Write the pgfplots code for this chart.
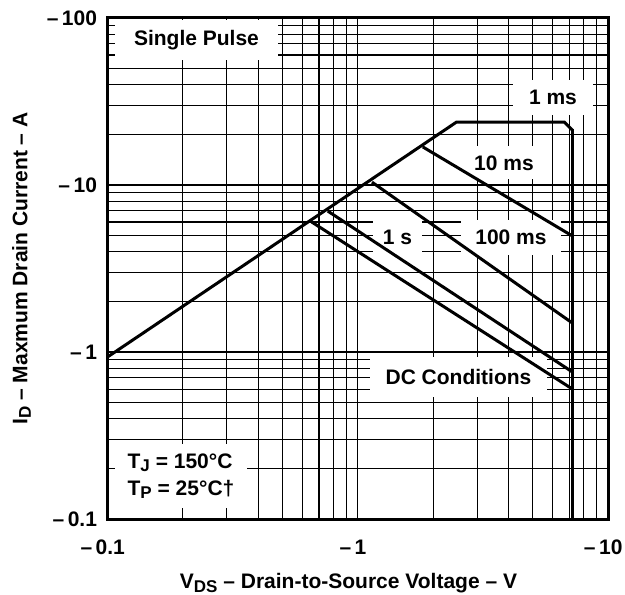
\documentclass[border=0pt]{standalone}
\usepackage{fontspec}
\setmainfont{Liberation Sans}
\usepackage{pgfplots}
\pgfplotsset{compat=1.18}
\newcommand{\sub}[1]{\raisebox{-1.7pt}{\fontsize{8.5}{9}\selectfont\bfseries #1}}
\newcommand{\lblfont}{\fontsize{10.5}{12.5}\selectfont\bfseries}
\begin{document}
\begin{tikzpicture}[font=\lblfont]
\begin{axis}[
  at={(0,0)}, anchor=south west,
  scale only axis, width=250.25pt, height=250.5pt,
  xmode=log, ymode=log,
  xmin=0.1, xmax=10, ymin=0.1, ymax=100,
  xtick={0.1,1,10},
  xticklabels={\textendash\,0.1, \textendash\,1, \textendash\,10},
  ytick={0.1,1,10,100},
  yticklabels={\textendash\,0.1, \textendash\,1, \textendash\,10, \textendash\,100},
  minor xtick={0.2,0.3,0.4,0.5,0.6,0.7,0.8,0.9,2,3,4,5,6,7,8,9},
  minor ytick={0.2,0.3,0.4,0.5,0.6,0.7,0.8,0.9,2,3,4,5,6,7,8,9,20,30,40,50,60,70,80,90},
  grid=both,
  major grid style={black, line width=0.55pt},
  minor grid style={black, line width=0.55pt},
  axis line style={line width=1.5pt},
  tick style={draw=none},
  major tick length=0pt, minor tick length=0pt,
  ticklabel style={font=\lblfont},
  xticklabel style={yshift=-6.8pt, xshift=-2.4pt},
  yticklabel style={xshift=-1.7pt},
  xlabel={V\sub{DS} \textendash\ Drain-to-Source Voltage \textendash\ V},
  ylabel={I\sub{D} \textendash\ Maxmum Drain Current \textendash\ A},
  xlabel style={at={(axis description cs:0.4815,-0.1397)}, anchor=base, font=\lblfont},
  ylabel style={at={(axis description cs:-0.16,0.5)}, anchor=base, font=\lblfont},
  clip=false,
]
% label boxes (drawn before curves so curves lie on top)
\node[fill=white, inner sep=0pt, minimum width=81.5pt, minimum height=20pt] at (axis description cs:0.1778,0.9561) {Single Pulse};
\node[fill=white, inner sep=0pt, minimum width=40pt, minimum height=17.5pt] at (axis description cs:0.8901,0.8413) {1 ms};
\node[fill=white, inner sep=0pt, minimum width=42pt, minimum height=16.5pt] at (axis description cs:0.7922,0.7106) {10 ms};
\node[fill=white, inner sep=0pt, minimum width=24.5pt, minimum height=17.5pt] at (axis description cs:0.5794,0.5619) {1 s};
\node[fill=white, inner sep=0pt, minimum width=50pt, minimum height=17.5pt] at (axis description cs:0.8062,0.5619) {100 ms};
\node[fill=white, inner sep=0pt, minimum width=88.5pt, minimum height=20pt] at (axis description cs:0.7013,0.2834) {DC Conditions};
\node[fill=white, inner sep=0pt, minimum width=66pt, minimum height=32pt, align=left, font=\fontsize{10.5}{13.5}\selectfont\bfseries] at (axis description cs:0.1469,0.0858) {T\sub{J} = 150\textdegree C\\T\sub{P} = 25\textdegree C\textdagger};

% 1 ms boundary (RDS(on) limit, current limit, voltage limit)
\addplot[black, line width=1.5pt, line join=miter] coordinates {(0.1,0.933) (2.48,23.8) (6.70,23.8) (7.21,21.3)};
\addplot[black, line width=1.8pt] coordinates {(7.21,21.6) (7.21,0.1)};
% 10 ms
\addplot[black, line width=1.5pt] coordinates {(1.82,16.9) (7.21,4.95)};
% 100 ms
\addplot[black, line width=1.5pt] coordinates {(1.14,10.4) (7.21,1.49)};
% 1 s
\addplot[black, line width=1.5pt] coordinates {(0.759,6.98) (7.21,0.759)};
% DC
\addplot[black, line width=1.5pt] coordinates {(0.655,6.00) (7.21,0.600)};
\end{axis}
\pgfresetboundingbox
\path (-53.75pt,-37.5pt) rectangle (258.75pt,259.5pt);
\end{tikzpicture}
\end{document}
